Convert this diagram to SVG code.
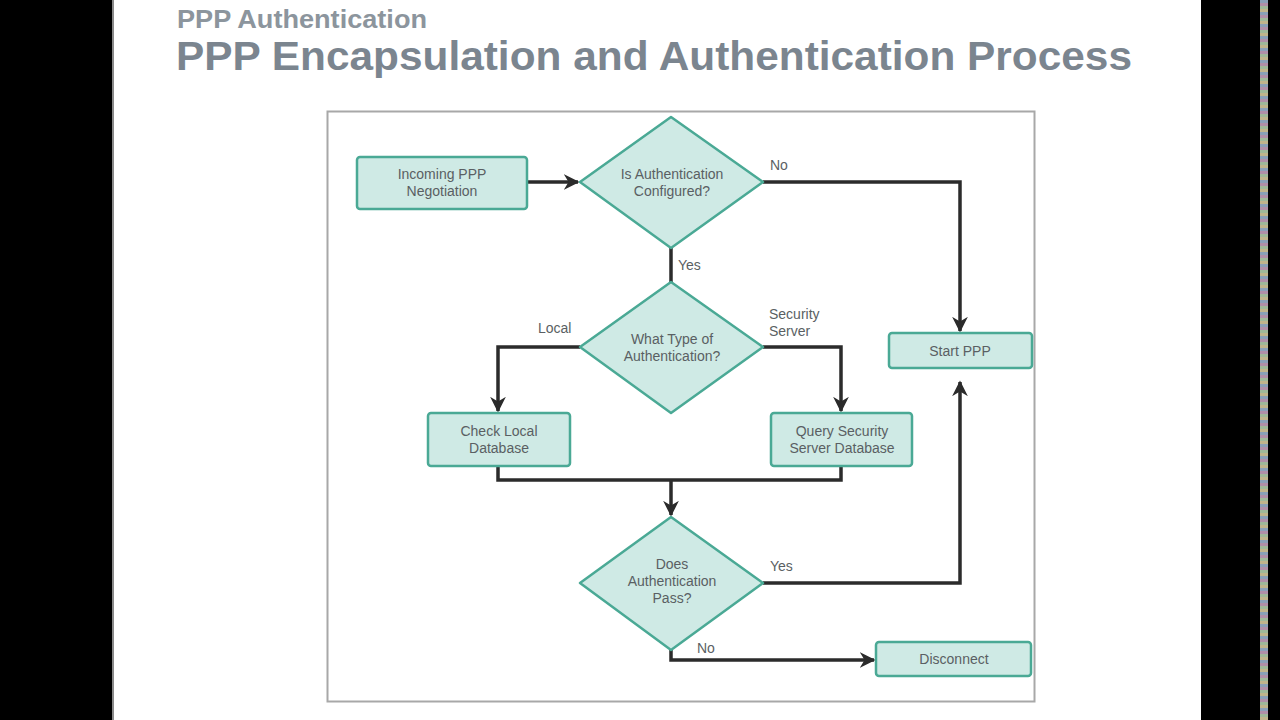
<svg xmlns="http://www.w3.org/2000/svg" width="1280" height="720" viewBox="0 0 1280 720">
<defs>
<style>
.node{fill:#cfeae5;stroke:#4aa995;stroke-width:2.5}
.lbl{font-family:"Liberation Sans",Arial,sans-serif;font-size:14px;fill:#5a5f63;text-anchor:middle}
.elbl{font-family:"Liberation Sans",Arial,sans-serif;font-size:14px;fill:#5a5f63}
.conn{fill:none;stroke:#2b2b2b;stroke-width:3.5}
</style>
<marker id="arr" viewBox="0 0 10 10" refX="9" refY="5" markerWidth="4.5" markerHeight="4.5" orient="auto" markerUnits="strokeWidth">
<path d="M0,0 L10,5 L0,10 L3,5 z" fill="#2b2b2b"/>
</marker>
<pattern id="strip" width="8" height="12" patternUnits="userSpaceOnUse">
<rect width="8" height="3" fill="#8aa0b8"/>
<rect y="3" width="8" height="3" fill="#b08fa8"/>
<rect y="6" width="8" height="3" fill="#9fb89a"/>
<rect y="9" width="8" height="3" fill="#c0b48c"/>
</pattern>
</defs>
<rect width="1280" height="720" fill="#000"/>
<rect x="113" y="0" width="1088" height="720" fill="#ffffff"/>
<rect x="112" y="0" width="2" height="720" fill="#8a8a8a"/>
<rect x="1260" y="0" width="8" height="720" fill="url(#strip)"/>
<g id="title">
<text x="177" y="28" font-family="Liberation Sans,Arial,sans-serif" font-size="26" font-weight="bold" fill="#8c959d" textLength="250" lengthAdjust="spacingAndGlyphs">PPP Authentication</text>
<text x="176" y="70" font-family="Liberation Sans,Arial,sans-serif" font-size="41" font-weight="bold" fill="#7b858f" textLength="956" lengthAdjust="spacingAndGlyphs">PPP Encapsulation and Authentication Process</text>
</g>
<rect x="327.5" y="111.5" width="707" height="590" fill="#fff" stroke="#a8a8a8" stroke-width="2"/>
<g id="connectors">
<path class="conn" d="M527,182 H578" marker-end="url(#arr)"/>
<path class="conn" d="M763,182 H960 V331" marker-end="url(#arr)"/>
<path class="conn" d="M671,248 V282"/>
<path class="conn" d="M580,347 H498 V411" marker-end="url(#arr)"/>
<path class="conn" d="M763,347 H841 V411" marker-end="url(#arr)"/>
<path class="conn" d="M498,466 V480 H841 V466"/>
<path class="conn" d="M671,480 V515" marker-end="url(#arr)"/>
<path class="conn" d="M763,583 H960 V382" marker-end="url(#arr)"/>
<path class="conn" d="M671,650 V660 H874" marker-end="url(#arr)"/>
<text class="elbl" x="770" y="170">No</text>
<text class="elbl" x="678" y="270">Yes</text>
<text class="elbl" x="538" y="333">Local</text>
<text class="elbl" x="769" y="319">Security</text>
<text class="elbl" x="769" y="336">Server</text>
<text class="elbl" x="770" y="571">Yes</text>
<text class="elbl" x="697" y="653">No</text>
</g>
<g id="incoming">
<rect class="node" x="357" y="157" width="170" height="52" rx="3"/>
<text class="lbl" x="442" y="179">Incoming PPP</text>
<text class="lbl" x="442" y="196">Negotiation</text>
</g>
<g id="auth-configured">
<path class="node" d="M671,117 L763,182 L671,248 L580,182 Z" stroke-linejoin="round"/>
<text class="lbl" x="672" y="179">Is Authentication</text>
<text class="lbl" x="672" y="196">Configured?</text>
</g>
<g id="auth-type">
<path class="node" d="M671,282 L763,347 L671,413 L580,347 Z" stroke-linejoin="round"/>
<text class="lbl" x="672" y="344">What Type of</text>
<text class="lbl" x="672" y="361">Authentication?</text>
</g>
<g id="start-ppp">
<rect class="node" x="889" y="333" width="143" height="35" rx="3"/>
<text class="lbl" x="960" y="356">Start PPP</text>
</g>
<g id="check-local">
<rect class="node" x="428" y="413" width="142" height="53" rx="3"/>
<text class="lbl" x="499" y="436">Check Local</text>
<text class="lbl" x="499" y="453">Database</text>
</g>
<g id="query-server">
<rect class="node" x="771" y="413" width="141" height="53" rx="3"/>
<text class="lbl" x="842" y="436">Query Security</text>
<text class="lbl" x="842" y="453">Server Database</text>
</g>
<g id="auth-pass">
<path class="node" d="M671,517 L763,583 L671,650 L580,583 Z" stroke-linejoin="round"/>
<text class="lbl" x="672" y="569">Does</text>
<text class="lbl" x="672" y="586">Authentication</text>
<text class="lbl" x="672" y="603">Pass?</text>
</g>
<g id="disconnect">
<rect class="node" x="876" y="642" width="155" height="34" rx="3"/>
<text class="lbl" x="954" y="664">Disconnect</text>
</g>
</svg>
